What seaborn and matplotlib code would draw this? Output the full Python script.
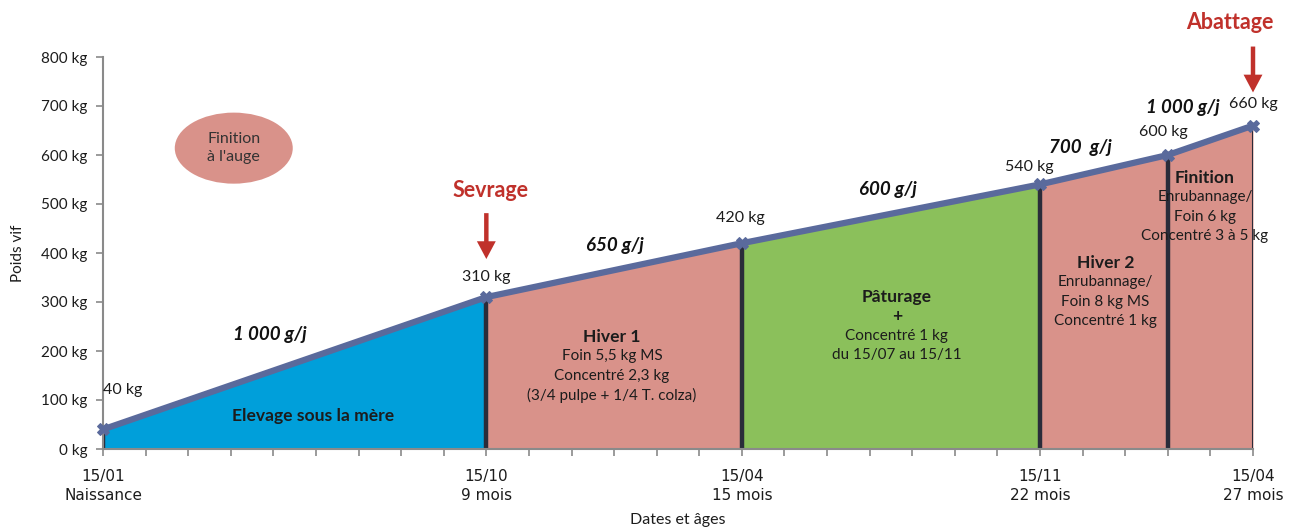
import matplotlib
matplotlib.use("Agg")
import matplotlib.pyplot as plt
from matplotlib.patches import Ellipse
import seaborn as sns
import pandas as pd

# Growth curve: age in months and live weight in kg
ages = [0, 9, 15, 22, 25, 27]
weights = [40, 310, 420, 540, 600, 660]

# Feeding phases between successive ages
phase_colors = ["#009FDA", "#D9928A", "#8BC05B", "#D9928A", "#D9928A"]

# Daily gain labels for each phase
gain_labels = ["1 000 g/j", "650 g/j", "600 g/j", "700  g/j", "1 000 g/j"]
gain_x = [3.92, 12.02, 18.43, 22.94, 25.36]
gain_y = [233, 416, 529, 616, 696]

# Weight labels at each point
weight_labels = ["40 kg", "310 kg", "420 kg", "540 kg", "600 kg", "660 kg"]
wlab_x = [0.47, 9.0, 14.96, 21.74, 24.89, 27.0]
wlab_y = [120, 351, 471, 576, 647, 704]

# Phase descriptions; the first lines of each block are bold
phase_texts = [
    ["Elevage sous la mère"],
    ["Hiver 1", "Foin 5,5 kg MS", "Concentré 2,3 kg", "(3/4 pulpe + 1/4 T. colza)"],
    ["Pâturage", "+", "Concentré 1 kg", "du 15/07 au 15/11"],
    ["Hiver 2", "Enrubannage/", "Foin 8 kg MS", "Concentré 1 kg"],
    ["Finition", "Enrubannage/", "Foin 6 kg", "Concentré 3 à 5 kg"],
]
phase_bold_lines = [1, 1, 2, 1, 1]
phase_text_x = [4.93, 11.95, 18.64, 23.53, 25.87]
phase_text_y = [67, 169, 251, 320, 494]

# Axis ticks
y_ticks = [0, 100, 200, 300, 400, 500, 600, 700, 800]
x_tick_pos = [0, 9, 15, 22, 27]
x_tick_labels = ["15/01\nNaissance", "15/10\n9 mois", "15/04\n15 mois", "15/11\n22 mois", "15/04\n27 mois"]

sns.set_style("white")
plt.rcParams["font.family"] = ["Lato", "DejaVu Sans"]

TEXT = "#1c1c1c"
LINE = "#5A6A9C"
DARK = "#2A2C3A"
RED = "#C0312B"

fig = plt.figure(figsize=(12.9, 5.29), dpi=100)
ax = fig.add_axes([103 / 1290, 1 - 449 / 529, (1253 - 103) / 1290, (449 - 57) / 529])

# Coloured phase areas under the curve
for i, c in enumerate(phase_colors):
    ax.fill_between(ages[i:i + 2], weights[i:i + 2], 0, color=c, lw=0, zorder=1)

# Vertical separators between phases
for i, (a, w) in enumerate(zip(ages, weights)):
    ax.vlines(a, 0, w, color=DARK, lw=3.2 if i < len(ages) - 1 else 1.5, zorder=2)

# Weight curve
df = pd.DataFrame({"age": ages, "poids": weights})
sns.lineplot(data=df, x="age", y="poids", ax=ax, color=LINE, lw=4.5, marker="X",
             markersize=9, markeredgecolor=LINE, zorder=4, clip_on=False)

ax.set_xlim(0, 27)
ax.set_ylim(0, 800)
ax.set_yticks(y_ticks)
ax.set_yticklabels([f"{v} kg" for v in y_ticks], fontsize=11, color=TEXT)
ax.set_xticks(range(0, 28))
ax.set_xticklabels(["" for _ in range(28)])
for p, lab in zip(x_tick_pos, x_tick_labels):
    ax.text(p, -41, lab, ha="center", va="top", fontsize=11, color=TEXT,
            family="DejaVu Sans", linespacing=1.3)
ax.tick_params(axis="both", direction="out", length=5, width=1.2, color="#8a8a8a",
               bottom=True, left=True)
ax.tick_params(axis="y", pad=6)
for s in ["top", "right"]:
    ax.spines[s].set_visible(False)
for s in ["left", "bottom"]:
    ax.spines[s].set_color("#8a8a8a")
    ax.spines[s].set_linewidth(1.5)

ax.set_ylabel("Poids vif", fontsize=11, color=TEXT, labelpad=12)
ax.set_xlabel("")
fig.text(678 / 1290, 1 - 520 / 529, "Dates et âges", ha="center", va="center",
         fontsize=11.5, color=TEXT)

# Daily gains
for t, x, y in zip(gain_labels, gain_x, gain_y):
    ax.text(x, y, t, ha="center", va="center", fontsize=13.5, fontweight="bold",
            fontstyle="italic", color="#111111")

# Weight labels
for t, x, y in zip(weight_labels, wlab_x, wlab_y):
    ax.text(x, y, t, ha="center", va="center", fontsize=11.5, color=TEXT, clip_on=False)

# Phase descriptions
step = 19.5 / 0.49
for lines, nb, x, yc in zip(phase_texts, phase_bold_lines, phase_text_x, phase_text_y):
    n = len(lines)
    for k, t in enumerate(lines):
        y = yc + ((n - 1) / 2 - k) * step
        bold = k < nb
        ax.text(x, y, t, ha="center", va="center", color=TEXT,
                fontsize=12.6 if bold else 11,
                fontweight="bold" if bold else "normal", zorder=5)

# Key events
arrow = dict(arrowstyle="simple,head_width=0.85,head_length=0.8,tail_width=0.2",
             color=RED, mutation_scale=16, lw=0)
ax.annotate("", xy=(9, 382), xytext=(9, 487), arrowprops=arrow, annotation_clip=False)
ax.text(9.1, 528, "Sevrage", ha="center", va="center", fontsize=15.5,
        fontweight="bold", color=RED)
ax.annotate("", xy=(27, 722), xytext=(27, 827), arrowprops=arrow, annotation_clip=False)
ax.text(26.46, 871, "Abattage", ha="center", va="center", fontsize=15.5,
        fontweight="bold", color=RED, clip_on=False)

# Finishing note
ax.add_patch(Ellipse((3.07, 614), 2.77, 145, color="#D9928A", lw=0, zorder=3))
ax.text(3.07, 614, "Finition\nà l'auge", ha="center", va="center", fontsize=11.5,
        color="#333333", linespacing=1.3, zorder=4)

fig.savefig("out.png", dpi=100)
